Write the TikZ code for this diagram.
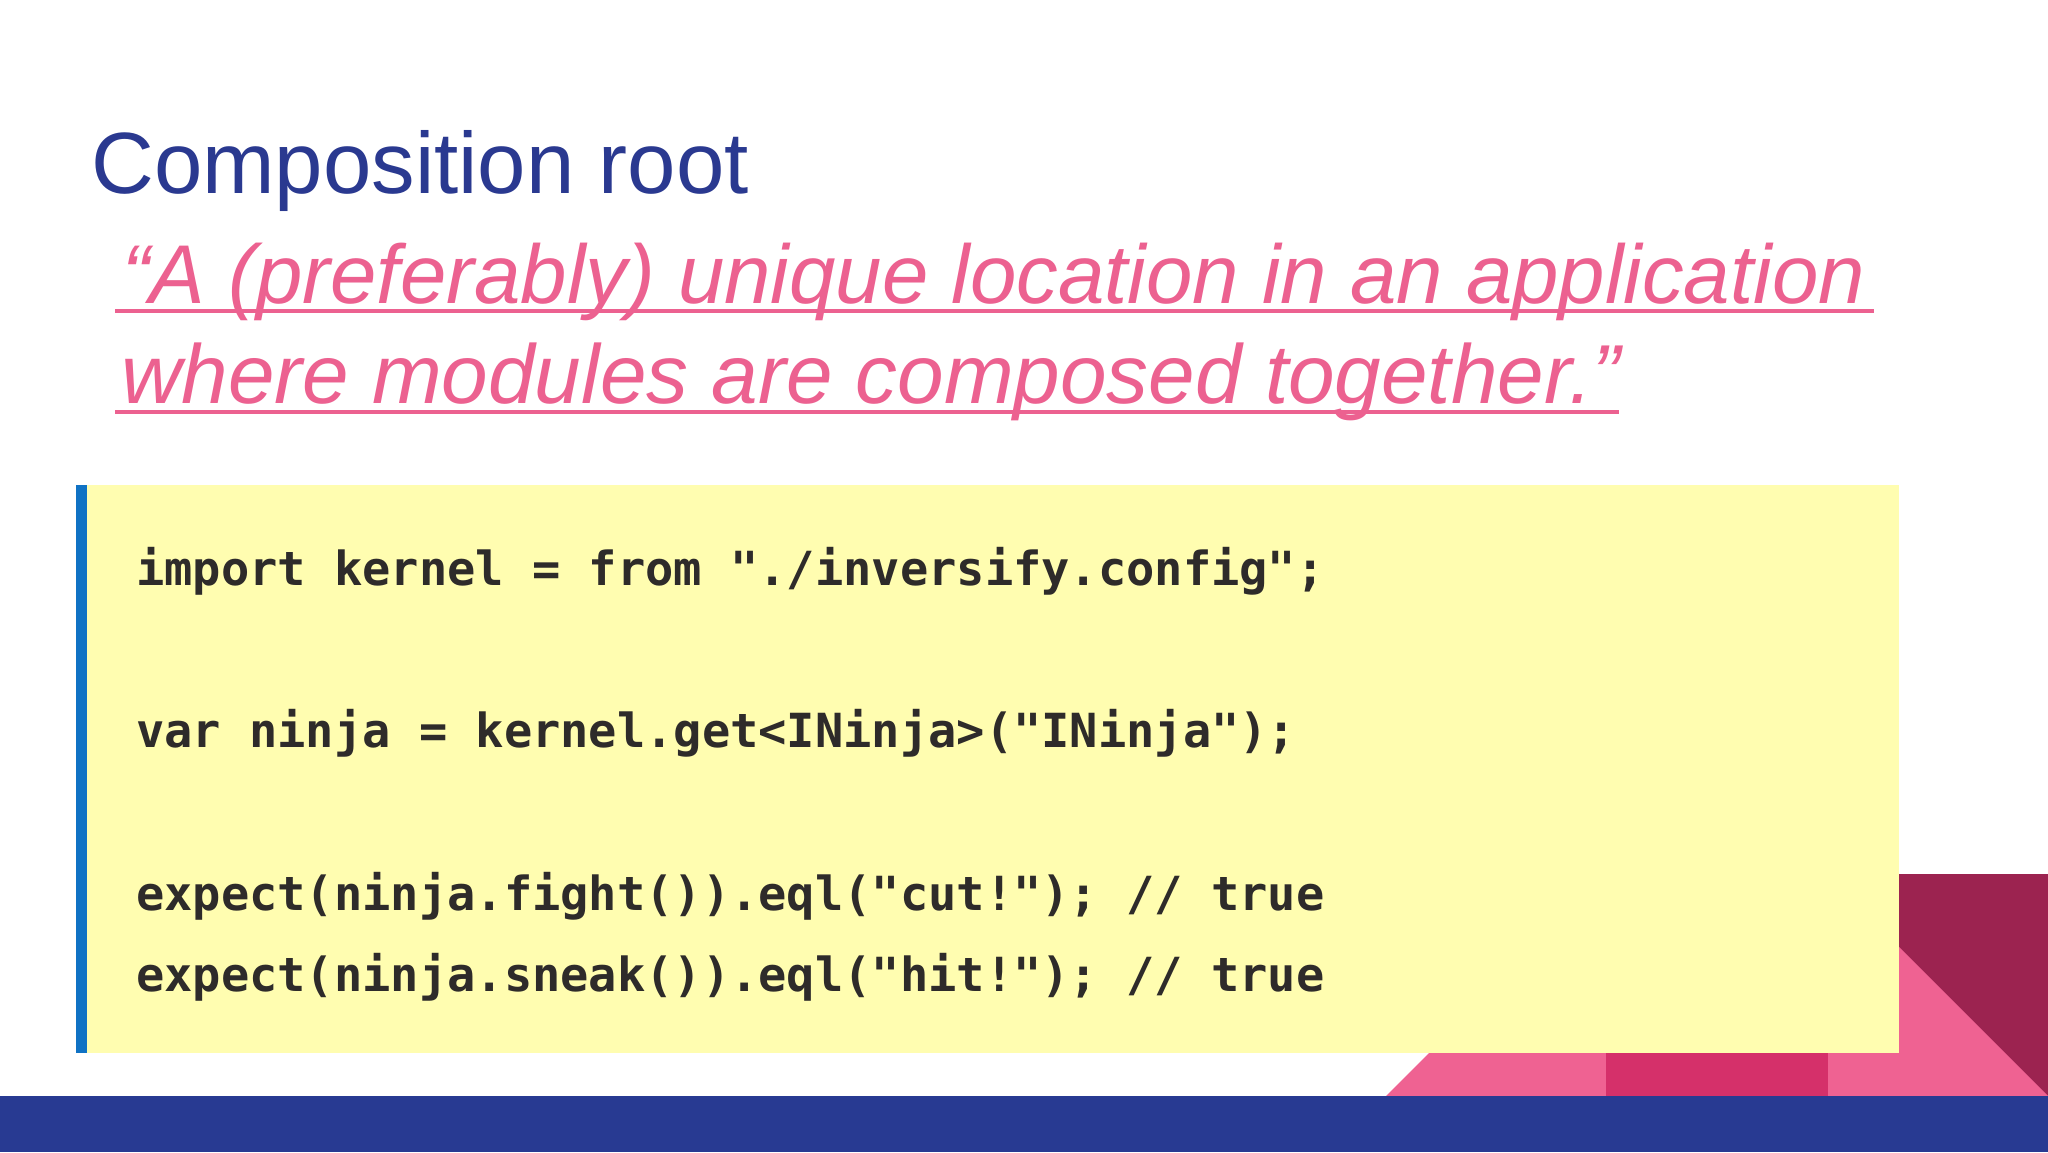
\documentclass[tikz,border=0pt]{standalone}
\usepackage{fontspec}
\usepackage{graphicx}
\setmainfont{Liberation Sans}
\newfontfamily\codefont{DejaVu Sans Mono}
\definecolor{titleblue}{HTML}{2A3990}
\definecolor{quotepink}{HTML}{EC6190}
\definecolor{barblue}{HTML}{283A92}
\definecolor{maroon}{HTML}{9C2350}
\definecolor{lightpink}{HTML}{EF6292}
\definecolor{darkpink}{HTML}{D5306A}
\definecolor{codeyellow}{HTML}{FFFDB0}
\definecolor{leftbar}{HTML}{1072C4}
\definecolor{codetext}{HTML}{2E2B2A}
\tikzset{
  codeline/.style={anchor=base west, inner sep=0pt, text=codetext,
    font=\codefont\bfseries\fontsize{47}{56}\selectfont},
  quoteline/.style={anchor=base west, inner sep=0pt, text=quotepink,
    font=\itshape\fontsize{86}{100}\selectfont},
  uline/.style={draw=quotepink, line width=4pt}
}
\begin{document}
\begin{tikzpicture}[x=1pt,y=-1pt]
  \useasboundingbox (0,0) rectangle (2048,1152);
  \fill[white] (0,0) rectangle (2048,1152);
  % decoration bottom right
  \fill[maroon] (1700,874) rectangle (2048,1096);
  \fill[lightpink] (1386,1096) -- (1717,765) -- (2048,1096) -- cycle;
  \fill[darkpink] (1606,1000) rectangle (1828,1096);
  \fill[barblue] (0,1096) rectangle (2048,1152);
  % code box
  \fill[codeyellow] (76,485) rectangle (1899,1053);
  \fill[leftbar] (76,485) rectangle (87,1053);
  % title
  \node[anchor=base west, inner sep=0pt, text=titleblue,
        font=\fontsize{87}{100}\selectfont] (title) at (91,193) {Composition root};
  % quote
  \node[quoteline] (q1) at (122,303)
    {\resizebox{1743pt}{!}{“A (preferably) unique location in an application}};
  \node[quoteline] (q2) at (121,403)
    {\resizebox{1499pt}{!}{where modules are composed together.”}};
  \coordinate (u1a) at (115,311);
  \coordinate (u1b) at (1874,311);
  \coordinate (u2a) at (115,412);
  \coordinate (u2b) at (1619,412);
  \draw[uline] (u1a) -- (u1b);
  \draw[uline] (u2a) -- (u2b);
  % code
  \node[codeline] (c1) at (136,585) {import kernel = from "./inversify.config";};
  \node[codeline] (c2) at (136,747) {var ninja = kernel.get<INinja>("INinja");};
  \node[codeline] (c3) at (136,910) {expect(ninja.fight()).eql("cut!"); // true};
  \node[codeline] (c4) at (136,991) {expect(ninja.sneak()).eql("hit!"); // true};
\end{tikzpicture}
\end{document}
